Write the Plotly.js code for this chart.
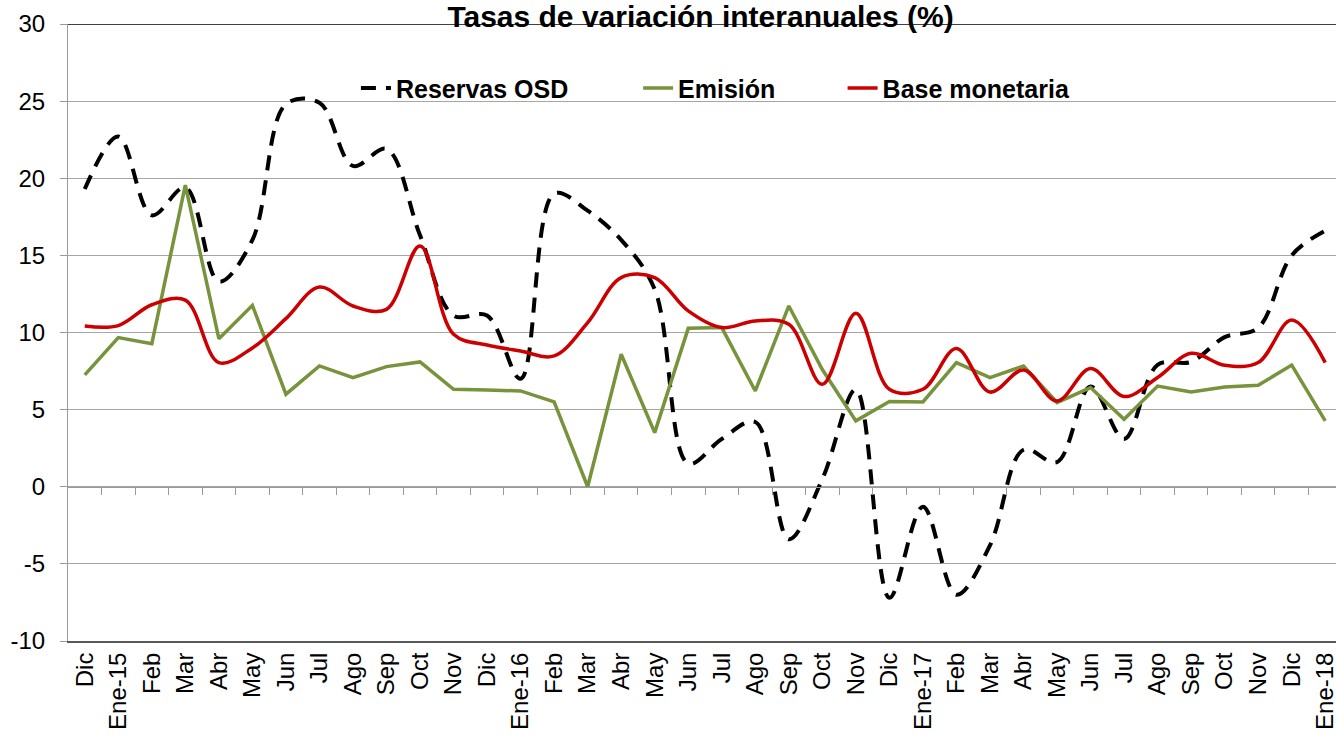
<!DOCTYPE html>
<html>
<head>
<meta charset="utf-8">
<script src="https://cdn.plot.ly/plotly-3.0.1.min.js"></script>
<style>
html,body{margin:0;padding:0;overflow:hidden;background:#fff;}
#chart{width:1345px;height:738px;}
</style>
</head>
<body>
<div id="chart"></div>
<script>
const categories = ['Dic','Ene-15','Feb','Mar','Abr','May','Jun','Jul','Ago','Sep','Oct','Nov','Dic','Ene-16','Feb','Mar','Abr','May','Jun','Jul','Ago','Sep','Oct','Nov','Dic','Ene-17','Feb','Mar','Abr','May','Jun','Jul','Ago','Sep','Oct','Nov','Dic','Ene-18'];
const reservasOSD = [19.3,22.7,17.6,19.4,13.3,16.0,24.8,24.9,20.8,21.9,16.3,11.1,11.1,7.0,19.0,17.9,16.0,12.8,1.5,3.1,4.2,-3.4,0.5,6.3,-7.2,-1.3,-7.0,-3.8,2.4,1.6,6.5,3.1,7.9,8.1,9.7,10.3,15.0,16.6];
const emision = [7.25,9.67,9.28,19.56,9.6,11.76,6.0,7.83,7.08,7.79,8.09,6.32,6.27,6.21,5.5,0.0,8.59,3.51,10.27,10.32,6.21,11.72,7.6,4.27,5.52,5.5,8.05,7.08,7.83,5.46,6.43,4.37,6.53,6.14,6.47,6.58,7.89,4.27];
const baseMonetaria = [10.42,10.45,11.8,12.1,8.05,9.0,10.9,12.95,11.72,11.5,15.6,9.88,9.19,8.8,8.48,10.64,13.56,13.56,11.4,10.32,10.75,10.53,6.64,11.24,6.32,6.32,8.96,6.14,7.57,5.56,7.66,5.85,7.08,8.65,7.87,8.05,10.81,8.05];
const yTicks = [-10,-5,0,5,10,15,20,25,30];
const yTickLabels = ['-10','-5','0','5','10','15','20','25','30'];

const idx = categories.map((_, i) => i);
const boundaries = categories.slice(0, -1).map((_, i) => i + 0.5);
const FONT = 'Liberation Sans, Arial, sans-serif';

const traces = [
  {x: idx, y: reservasOSD, name: 'Reservas OSD', type: 'scatter', mode: 'lines',
   line: {color: '#000000', width: 4, dash: '15px,10px', shape: 'spline', smoothing: 1},
   legend: 'legend', xaxis: 'x', yaxis: 'y'},
  {x: idx, y: emision, name: 'Emisión', type: 'scatter', mode: 'lines',
   line: {color: '#77933C', width: 3.5}, legend: 'legend2', xaxis: 'x2', yaxis: 'y'},
  {x: idx, y: baseMonetaria, name: 'Base monetaria', type: 'scatter', mode: 'lines',
   line: {color: '#CC0000', width: 3.5, shape: 'spline', smoothing: 1},
   legend: 'legend3', xaxis: 'x2', yaxis: 'y'}
];

const legendBase = {orientation: 'h', yanchor: 'middle', y: 0.896, xanchor: 'left',
  bgcolor: 'rgba(0,0,0,0)', font: {family: FONT, size: 25, color: '#000', weight: 'bold'},
  itemwidth: 30, tracegroupgap: 0};

const layout = {
  width: 1345, height: 738,
  margin: {l: 68, r: 3, t: 24, b: 97, pad: 0},
  paper_bgcolor: '#ffffff', plot_bgcolor: '#ffffff',
  showlegend: true,
  title: {text: '<b>Tasas de variación interanuales (%)</b>', font: {family: FONT, size: 30, color: '#000'},
    xref: 'paper', x: 0.4965, xanchor: 'center', yref: 'container', y: 0.977, yanchor: 'middle'},
  xaxis: {range: [-0.5, categories.length - 0.5], tickmode: 'array', tickvals: idx, ticktext: categories,
    tickangle: -90, ticks: '', showgrid: false, zeroline: false,
    showline: true, linecolor: '#595959', linewidth: 2,
    tickfont: {family: FONT, size: 24, color: '#000'}},
  xaxis2: {range: [-0.5, categories.length - 0.5], overlaying: 'x', anchor: 'free', position: 0.25,
    tickmode: 'array', tickvals: boundaries, showticklabels: false, ticks: 'outside', ticklen: 7,
    tickcolor: '#9a9a9a', tickwidth: 1, showgrid: false, zeroline: false,
    showline: true, linecolor: '#9a9a9a', linewidth: 1},
  yaxis: {range: [-10, 30], tickmode: 'array', tickvals: yTicks, ticktext: yTickLabels, ticks: 'outside', ticklen: 7,
    tickcolor: '#9a9a9a', showgrid: true, gridcolor: '#a6a6a6', gridwidth: 1, zeroline: false,
    showline: true, linecolor: '#9a9a9a', linewidth: 1, ticklabelstandoff: 10,
    tickfont: {family: FONT, size: 24, color: '#000'}},
  legend: Object.assign({}, legendBase, {x: 0.226}),
  legend2: Object.assign({}, legendBase, {x: 0.4475}),
  legend3: Object.assign({}, legendBase, {x: 0.608}),
  shapes: [{type: 'line', xref: 'paper', x0: 0, x1: 1, yref: 'y', y0: 30, y1: 30,
    line: {color: '#000000', width: 1.5}, layer: 'above'}]
};

Plotly.newPlot('chart', traces, layout, {displayModeBar: false, staticPlot: true});
</script>
</body>
</html>
